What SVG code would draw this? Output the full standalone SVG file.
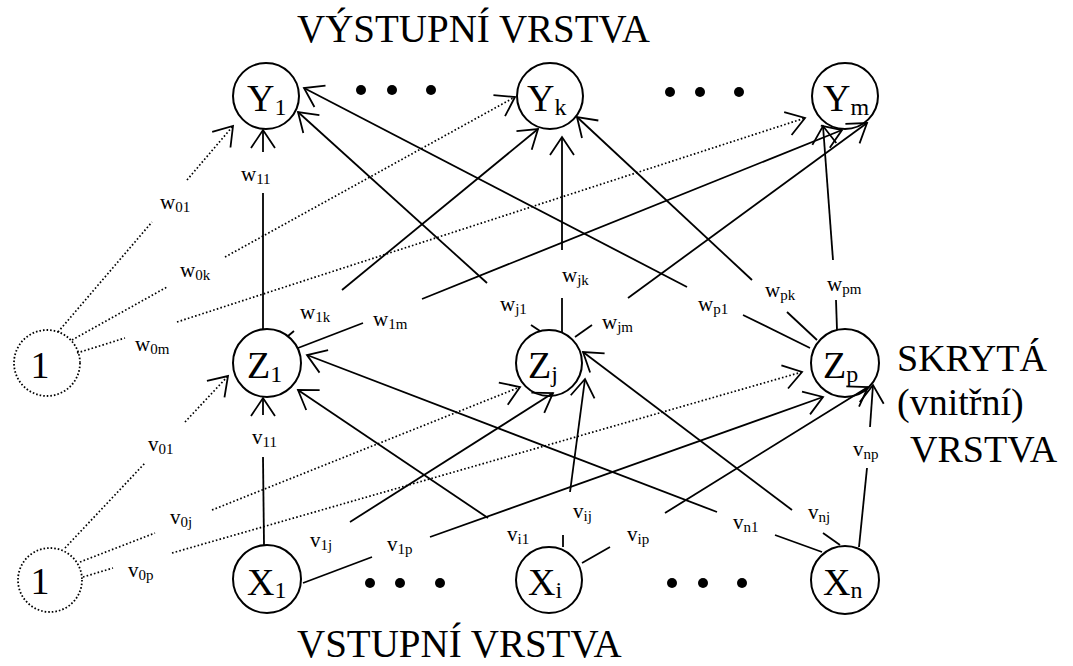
<svg xmlns="http://www.w3.org/2000/svg" width="1073" height="666" viewBox="0 0 1073 666" font-family="'Liberation Serif', 'Times New Roman', serif">
  <style>
    .node { fill: none; stroke: #000; stroke-width: 2; }
    .bias { fill: none; stroke: #000; stroke-width: 1.8; stroke-dasharray: 1.6 2; }
    .ln { fill: none; stroke: #000; stroke-width: 1.8; }
    .dt { fill: none; stroke: #000; stroke-width: 1.7; stroke-dasharray: 1.6 2.2; }
    .arr { marker-end: url(#head); }
    text { font-family: "Liberation Serif", "Times New Roman", serif; fill: #000; }
    .title { font-size: 39px; }
    .big { font-size: 38px; }
    .sub { font-size: 24px; }
    .lbl { font-size: 21px; }
    .ls { font-size: 15px; }
    .dot { fill: #000; }
  </style>
  <defs>
    <marker id="head" markerUnits="userSpaceOnUse" markerWidth="44" markerHeight="44" viewBox="-22 -22 44 44" refX="0" refY="0" orient="auto">
      <path d="M-18,-12 L0,0 L-18,12" fill="none" stroke="#000" stroke-width="1.8"/>
    </marker>
  </defs>
  <rect width="1073" height="666" fill="#fff"/>

  <!-- layer titles -->
  <text class="title" x="297" y="42">VÝSTUPNÍ VRSTVA</text>
  <text class="title" x="297" y="657">VSTUPNÍ VRSTVA</text>
  <text class="big" x="897" y="371">SKRYTÁ</text>
  <text class="big" x="897" y="415">(vnitřní)</text>
  <text class="big" x="910" y="462">VRSTVA</text>

  <!-- ellipsis dots -->
  <g id="dots">
    <circle class="dot" cx="361" cy="90" r="5"/><circle class="dot" cx="392" cy="90" r="5"/><circle class="dot" cx="431" cy="90" r="5"/>
    <circle class="dot" cx="670" cy="92" r="5"/><circle class="dot" cx="700" cy="92" r="5"/><circle class="dot" cx="739" cy="92" r="5"/>
    <circle class="dot" cx="370" cy="583" r="5"/><circle class="dot" cx="400" cy="583" r="5"/><circle class="dot" cx="440" cy="583" r="5"/>
    <circle class="dot" cx="672" cy="583" r="5"/><circle class="dot" cx="703" cy="583" r="5"/><circle class="dot" cx="742" cy="583" r="5"/>
  </g>

  <!-- connectors: each edge is broken where its weight label sits -->
  <g id="connectors">
    <!-- hidden -> output -->
    <g id="e-w11"><line class="ln" x1="263" y1="330" x2="263" y2="193"/><line class="ln arr" x1="263" y1="152" x2="263" y2="130"/>
      <text class="lbl" x="241" y="181">w<tspan class="ls" dy="3">11</tspan></text></g>
    <g id="e-w1k"><line class="ln" x1="288" y1="336" x2="294" y2="331"/><line class="ln arr" x1="342" y1="290" x2="538" y2="129"/>
      <text class="lbl" x="300" y="319">w<tspan class="ls" dy="3">1k</tspan></text></g>
    <g id="e-w1m"><line class="ln" x1="298" y1="348" x2="363" y2="323"/><line class="ln arr" x1="422" y1="299" x2="842" y2="130"/>
      <text class="lbl" x="373" y="326">w<tspan class="ls" dy="3">1m</tspan></text></g>
    <g id="e-wj1"><line class="ln" x1="531" y1="325" x2="540" y2="331"/><line class="ln arr" x1="487" y1="283" x2="298" y2="112"/>
      <text class="lbl" x="500" y="311">w<tspan class="ls" dy="3">j1</tspan></text></g>
    <g id="e-wjk"><line class="ln" x1="562" y1="333" x2="562" y2="298"/><line class="ln arr" x1="562" y1="250" x2="562" y2="137"/>
      <text class="lbl" x="562" y="282">w<tspan class="ls" dy="3">jk</tspan></text></g>
    <g id="e-wjm"><line class="ln" x1="575" y1="337" x2="592" y2="325"/><line class="ln arr" x1="628" y1="298" x2="867" y2="123"/>
      <text class="lbl" x="602" y="329">w<tspan class="ls" dy="3">jm</tspan></text></g>
    <g id="e-wp1"><line class="ln" x1="810" y1="348" x2="743" y2="315"/><line class="ln arr" x1="687" y1="287" x2="304" y2="88"/>
      <text class="lbl" x="698" y="311">w<tspan class="ls" dy="3">p1</tspan></text></g>
    <g id="e-wpk"><line class="ln" x1="817" y1="340" x2="787" y2="312"/><line class="ln arr" x1="752" y1="280" x2="577" y2="117"/>
      <text class="lbl" x="765" y="297">w<tspan class="ls" dy="3">pk</tspan></text></g>
    <g id="e-wpm"><line class="ln" x1="837" y1="330" x2="836" y2="300"/><line class="ln arr" x1="833" y1="260" x2="823" y2="126"/>
      <text class="lbl" x="827" y="291">w<tspan class="ls" dy="3">pm</tspan></text></g>

    <!-- output bias -->
    <g id="e-w01"><line class="dt" x1="58" y1="332" x2="152" y2="222"/><line class="dt arr" x1="187" y1="180" x2="233" y2="126"/>
      <text class="lbl" x="160" y="209">w<tspan class="ls" dy="3">01</tspan></text></g>
    <g id="e-w0k"><line class="dt" x1="72" y1="340" x2="167" y2="287"/><line class="dt arr" x1="225" y1="257" x2="515" y2="97"/>
      <text class="lbl" x="180" y="277">w<tspan class="ls" dy="3">0k</tspan></text></g>
    <g id="e-w0m"><line class="dt" x1="77" y1="353" x2="125" y2="338"/><line class="dt arr" x1="177" y1="322" x2="805" y2="118"/>
      <text class="lbl" x="135" y="351">w<tspan class="ls" dy="3">0m</tspan></text></g>

    <!-- hidden bias -->
    <g id="e-v01"><line class="dt" x1="65" y1="548" x2="145" y2="463"/><line class="dt arr" x1="185" y1="422" x2="228" y2="376"/>
      <text class="lbl" x="148" y="451">v<tspan class="ls" dy="3">01</tspan></text></g>
    <g id="e-v0j"><line class="dt" x1="80" y1="562" x2="155" y2="533"/><line class="dt arr" x1="212" y1="510" x2="520" y2="387"/>
      <text class="lbl" x="170" y="524">v<tspan class="ls" dy="3">0j</tspan></text></g>
    <g id="e-v0p"><line class="dt" x1="83" y1="577" x2="113" y2="568"/><line class="dt arr" x1="172" y1="553" x2="802" y2="372"/>
      <text class="lbl" x="128" y="577">v<tspan class="ls" dy="3">0p</tspan></text></g>

    <!-- input -> hidden -->
    <g id="e-v11"><line class="ln" x1="264" y1="545" x2="263" y2="457"/><line class="ln arr" x1="263" y1="415" x2="263" y2="398"/>
      <text class="lbl" x="252" y="444">v<tspan class="ls" dy="3">11</tspan></text></g>
    <g id="e-v1j"><line class="ln arr" x1="350" y1="522" x2="553" y2="393"/>
      <text class="lbl" x="310" y="547">v<tspan class="ls" dy="3">1j</tspan></text></g>
    <g id="e-v1p"><line class="ln" x1="303" y1="583" x2="372" y2="557"/><line class="ln arr" x1="430" y1="537" x2="823" y2="397"/>
      <text class="lbl" x="387" y="551">v<tspan class="ls" dy="3">1p</tspan></text></g>
    <g id="e-vi1"><line class="ln arr" x1="488" y1="518" x2="298" y2="390"/>
      <text class="lbl" x="507" y="541">v<tspan class="ls" dy="3">i1</tspan></text></g>
    <g id="e-vij"><line class="ln" x1="563" y1="547" x2="563" y2="535"/><line class="ln arr" x1="570" y1="492" x2="585" y2="379"/>
      <text class="lbl" x="573" y="518">v<tspan class="ls" dy="3">ij</tspan></text></g>
    <g id="e-vip"><line class="ln" x1="582" y1="563" x2="610" y2="547"/><line class="ln arr" x1="665" y1="513" x2="868" y2="387"/>
      <text class="lbl" x="627" y="541">v<tspan class="ls" dy="3">ip</tspan></text></g>
    <g id="e-vn1"><line class="ln" x1="822" y1="552" x2="775" y2="535"/><line class="ln arr" x1="717" y1="512" x2="307" y2="355"/>
      <text class="lbl" x="733" y="529">v<tspan class="ls" dy="3">n1</tspan></text></g>
    <g id="e-vnj"><line class="ln" x1="840" y1="545" x2="823" y2="533"/><line class="ln arr" x1="792" y1="510" x2="583" y2="352"/>
      <text class="lbl" x="808" y="519">v<tspan class="ls" dy="3">nj</tspan></text></g>
    <g id="e-vnp"><line class="ln" x1="859" y1="547" x2="867" y2="468"/><line class="ln arr" x1="870" y1="427" x2="873" y2="385"/>
      <text class="lbl" x="853" y="456">v<tspan class="ls" dy="3">np</tspan></text></g>
  </g>

  <!-- output layer -->
  <g id="Y1"><circle class="node" cx="266" cy="96" r="33"/><text class="big" x="247" y="111">Y<tspan class="sub" dy="4">1</tspan></text></g>
  <g id="Yk"><circle class="node" cx="550" cy="96" r="33"/><text class="big" x="527" y="111">Y<tspan class="sub" dy="4">k</tspan></text></g>
  <g id="Ym"><circle class="node" cx="845" cy="96" r="33"/><text class="big" x="823" y="111">Y<tspan class="sub" dy="4">m</tspan></text></g>

  <!-- hidden layer -->
  <g id="bias-hidden"><circle class="bias" cx="47" cy="363" r="33"/><text class="big" x="40" y="378" text-anchor="middle">1</text></g>
  <g id="Z1"><circle class="node" cx="267" cy="363" r="34"/><text class="big" x="247" y="378">Z<tspan class="sub" dy="4">1</tspan></text></g>
  <g id="Zj"><circle class="node" cx="549" cy="363" r="33"/><text class="big" x="528" y="378">Z<tspan class="sub" dy="4">j</tspan></text></g>
  <g id="Zp"><circle class="node" cx="845" cy="363" r="34"/><text class="big" x="823" y="378">Z<tspan class="sub" dy="4">p</tspan></text></g>

  <!-- input layer -->
  <g id="bias-input"><circle class="bias" cx="50" cy="580" r="32"/><text class="big" x="40" y="594" text-anchor="middle">1</text></g>
  <g id="X1"><circle class="node" cx="267" cy="579" r="34"/><text class="big" x="247" y="595">X<tspan class="sub" dy="3">1</tspan></text></g>
  <g id="Xi"><circle class="node" cx="549" cy="580" r="33"/><text class="big" x="528" y="595">X<tspan class="sub" dy="3">i</tspan></text></g>
  <g id="Xn"><circle class="node" cx="845" cy="580" r="34"/><text class="big" x="823" y="595">X<tspan class="sub" dy="3">n</tspan></text></g>
</svg>
